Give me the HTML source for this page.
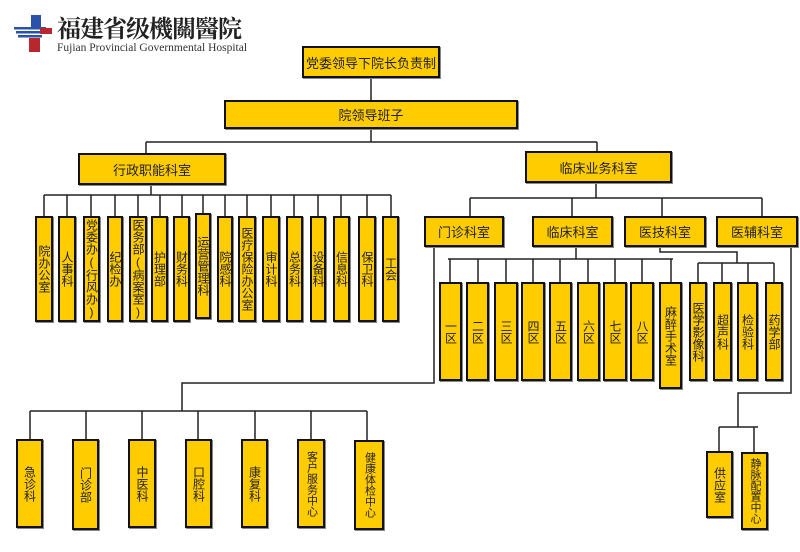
<!DOCTYPE html>
<html><head><meta charset="utf-8"><style>
html,body{margin:0;padding:0;background:#fff;width:800px;height:552px;overflow:hidden;position:relative;font-family:"Liberation Sans","Noto Sans CJK SC",sans-serif}
.b{position:absolute;background:#FFCC00;border:2px solid #111;box-shadow:1px 1px 0 #888;box-sizing:border-box;display:flex;align-items:center;justify-content:center;font-size:13px;color:#222;overflow:visible}
.v span{writing-mode:vertical-rl;text-orientation:upright;font-size:12px;line-height:12px;white-space:nowrap;display:block}
.v.s span{font-size:11px;line-height:11px}
svg{position:absolute;left:0;top:0}
</style></head><body>
<svg width="800" height="552" stroke="#222" stroke-width="1.5" fill="none">
<path d="M371 78V100M371 129V142M146 142H597M146 142V153M597 142V151"/>
<path d="M151 185V195M44 195H391"/>
<path d="M44 195V216M67 195V216M91 195V216M115 195V216M138 195V216M160 195V216M182 195V216M203 195V213M225 195V216M247 195V216M271 195V216M294 195V216M318 195V216M341 195V216M367 195V216M391 195V216"/>
<path d="M596 183V198M470 198H762M470 198V216M572 198V216M662 198V216M762 198V216"/>
<path d="M576 247V259M448 259H673M450 259V283M478 259V283M506 259V283M533 259V283M560 259V283M588 259V283M615 259V283M642 259V283M671 259V283"/>
<path d="M660 247V252H737V263M698 263H774M698 263V283M722 263V283M748 263V283M774 263V283"/>
<path d="M434 247V383H182V411M30 411H367M30 411V439M86 411V439M142 411V439M198 411V439M255 411V439M311 411V439M367 411V440"/>
<path d="M791 247V393H738V427M719 427H758M719 427V451M754 427V452"/>
</svg>
<svg width="60" height="60" style="left:0;top:0" stroke="none">
<rect x="31" y="15" width="10" height="12" fill="#2a52a8"/>
<rect x="14" y="27" width="32" height="2.5" fill="#2a52a8"/>
<rect x="16" y="31" width="28" height="2.5" fill="#2a52a8"/>
<rect x="18" y="35" width="24" height="2.5" fill="#2a52a8"/>
<rect x="29" y="38" width="11" height="14" fill="#b8262e"/>
<rect x="40" y="28" width="12" height="6" fill="#b8262e"/>
</svg>
<div style="position:absolute;left:57px;top:13px;font-family:'Noto Serif CJK SC',serif;font-weight:bold;font-size:24px;letter-spacing:-1px;color:#222;line-height:28px">福建省级機關醫院</div>
<div style="position:absolute;left:57px;top:42px;font-family:'Liberation Serif',serif;font-size:11.5px;color:#333;white-space:nowrap">Fujian Provincial Governmental Hospital</div>

<div class="b" style="left:302px;top:46px;width:138px;height:32px">党委领导下院长负责制</div>
<div class="b" style="left:224px;top:100px;width:294px;height:29px">院领导班子</div>
<div class="b" style="left:78px;top:153px;width:148px;height:32px">行政职能科室</div>
<div class="b" style="left:525px;top:151px;width:147px;height:32px">临床业务科室</div>

<div class="b v" style="left:35px;top:216px;width:18px;height:106px"><span>院办公室</span></div>
<div class="b v" style="left:58px;top:216px;width:18px;height:106px"><span>人事科</span></div>
<div class="b v" style="left:83px;top:216px;width:17px;height:106px"><span>党委办(行风办)</span></div>
<div class="b v" style="left:107px;top:216px;width:16px;height:106px"><span>纪检办</span></div>
<div class="b v" style="left:129px;top:216px;width:18px;height:106px"><span>医务部(病案室)</span></div>
<div class="b v" style="left:151px;top:216px;width:17px;height:106px"><span>护理部</span></div>
<div class="b v" style="left:173px;top:216px;width:17px;height:106px"><span>财务科</span></div>
<div class="b v" style="left:195px;top:213px;width:16px;height:106px"><span>运营管理科</span></div>
<div class="b v" style="left:217px;top:216px;width:16px;height:106px"><span>院感科</span></div>
<div class="b v" style="left:238px;top:216px;width:18px;height:106px"><span>医疗保险办公室</span></div>
<div class="b v" style="left:262px;top:216px;width:18px;height:106px"><span>审计科</span></div>
<div class="b v" style="left:286px;top:216px;width:17px;height:106px"><span>总务科</span></div>
<div class="b v" style="left:310px;top:216px;width:16px;height:106px"><span>设备科</span></div>
<div class="b v" style="left:333px;top:216px;width:17px;height:106px"><span>信息科</span></div>
<div class="b v" style="left:358px;top:216px;width:18px;height:106px"><span>保卫科</span></div>
<div class="b v" style="left:382px;top:216px;width:17px;height:106px"><span>工会</span></div>

<div class="b" style="left:424px;top:216px;width:80px;height:31px">门诊科室</div>
<div class="b" style="left:532px;top:216px;width:81px;height:31px">临床科室</div>
<div class="b" style="left:624px;top:216px;width:82px;height:31px">医技科室</div>
<div class="b" style="left:716px;top:216px;width:82px;height:31px">医辅科室</div>

<div class="b v" style="left:439px;top:282px;width:23px;height:99px"><span>一区</span></div>
<div class="b v" style="left:466px;top:282px;width:23px;height:99px"><span>二区</span></div>
<div class="b v" style="left:494px;top:282px;width:24px;height:99px"><span>三区</span></div>
<div class="b v" style="left:521px;top:282px;width:24px;height:99px"><span>四区</span></div>
<div class="b v" style="left:549px;top:282px;width:23px;height:99px"><span>五区</span></div>
<div class="b v" style="left:577px;top:282px;width:23px;height:99px"><span>六区</span></div>
<div class="b v" style="left:603px;top:282px;width:24px;height:99px"><span>七区</span></div>
<div class="b v" style="left:630px;top:282px;width:24px;height:99px"><span>八区</span></div>
<div class="b v" style="left:659px;top:282px;width:23px;height:107px"><span>麻醉手术室</span></div>
<div class="b v" style="left:689px;top:282px;width:18px;height:99px"><span>医学影像科</span></div>
<div class="b v" style="left:713px;top:282px;width:19px;height:99px"><span>超声科</span></div>
<div class="b v" style="left:737px;top:282px;width:21px;height:99px"><span>检验科</span></div>
<div class="b v" style="left:765px;top:282px;width:18px;height:99px"><span>药学部</span></div>

<div class="b v" style="left:16px;top:439px;width:27px;height:89px"><span>急诊科</span></div>
<div class="b v" style="left:72px;top:439px;width:27px;height:91px"><span>门诊部</span></div>
<div class="b v" style="left:128px;top:439px;width:28px;height:89px"><span>中医科</span></div>
<div class="b v" style="left:185px;top:439px;width:27px;height:89px"><span>口腔科</span></div>
<div class="b v" style="left:241px;top:439px;width:27px;height:89px"><span>康复科</span></div>
<div class="b v s" style="left:297px;top:439px;width:28px;height:89px"><span>客户服务中心</span></div>
<div class="b v s" style="left:354px;top:440px;width:30px;height:90px"><span>健康体检中心</span></div>
<div class="b v" style="left:706px;top:451px;width:27px;height:67px"><span>供应室</span></div>
<div class="b v s" style="left:741px;top:452px;width:27px;height:78px"><span>静脉配置中心</span></div>
</body></html>
